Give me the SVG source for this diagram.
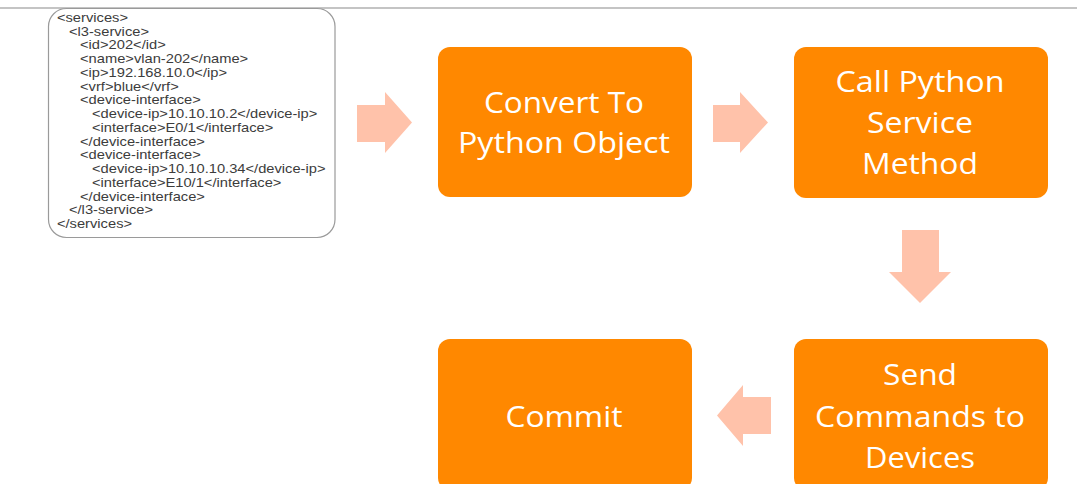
<svg xmlns="http://www.w3.org/2000/svg" width="1077" height="484" viewBox="0 0 1077 484">
<style>
.box{fill:#ff8800;}
.lbl{font-family:"Open Sans","Noto Sans",sans-serif;font-size:29px;fill:#ffffff;text-anchor:middle;}
.xml{font-family:"Liberation Sans",Arial,sans-serif;font-size:12px;fill:#3c3c3c;}
.arr{fill:#ffc2aa;}
</style>
<rect width="1077" height="484" fill="#ffffff"/>
<line x1="0" y1="8" x2="1077" y2="8" stroke="#c4c4c4" stroke-width="2"/>
<g id="xml">
<rect x="48.5" y="8.5" width="286.5" height="229" rx="18" fill="#ffffff" stroke="#9a9a9a" stroke-width="1.2"/>
<g transform="scale(1.225,1)">
<text class="xml" x="46.5" y="22">&lt;services&gt;</text>
<text class="xml" x="56.3" y="35.75">&lt;l3-service&gt;</text>
<text class="xml" x="65.3" y="49.5">&lt;id&gt;202&lt;/id&gt;</text>
<text class="xml" x="65.3" y="63.25">&lt;name&gt;vlan-202&lt;/name&gt;</text>
<text class="xml" x="65.3" y="77">&lt;ip&gt;192.168.10.0&lt;/ip&gt;</text>
<text class="xml" x="65.3" y="90.75">&lt;vrf&gt;blue&lt;/vrf&gt;</text>
<text class="xml" x="65.3" y="104.5">&lt;device-interface&gt;</text>
<text class="xml" x="75.1" y="118.25">&lt;device-ip&gt;10.10.10.2&lt;/device-ip&gt;</text>
<text class="xml" x="75.1" y="132">&lt;interface&gt;E0/1&lt;/interface&gt;</text>
<text class="xml" x="65.3" y="145.75">&lt;/device-interface&gt;</text>
<text class="xml" x="65.3" y="159.5">&lt;device-interface&gt;</text>
<text class="xml" x="75.1" y="173.25">&lt;device-ip&gt;10.10.10.34&lt;/device-ip&gt;</text>
<text class="xml" x="75.1" y="187">&lt;interface&gt;E10/1&lt;/interface&gt;</text>
<text class="xml" x="65.3" y="200.75">&lt;/device-interface&gt;</text>
<text class="xml" x="56.3" y="214.5">&lt;/l3-service&gt;</text>
<text class="xml" x="46.5" y="228.25">&lt;/services&gt;</text>
</g>
</g>
<g id="convert">
<rect class="box" x="438" y="47" width="254" height="150" rx="12"/>
<text class="lbl" x="564" y="113" textLength="160" lengthAdjust="spacingAndGlyphs">Convert To</text>
<text class="lbl" x="564" y="153" textLength="212" lengthAdjust="spacingAndGlyphs">Python Object</text>
</g>
<g id="call">
<rect class="box" x="794" y="47" width="254" height="151" rx="12"/>
<text class="lbl" x="920" y="92" textLength="169" lengthAdjust="spacingAndGlyphs">Call Python</text>
<text class="lbl" x="920" y="133" textLength="106" lengthAdjust="spacingAndGlyphs">Service</text>
<text class="lbl" x="920" y="174" textLength="116" lengthAdjust="spacingAndGlyphs">Method</text>
</g>
<g id="send">
<rect class="box" x="794" y="339" width="254" height="151" rx="12"/>
<text class="lbl" x="920" y="385" textLength="74" lengthAdjust="spacingAndGlyphs">Send</text>
<text class="lbl" x="920" y="427" textLength="210" lengthAdjust="spacingAndGlyphs">Commands to</text>
<text class="lbl" x="920" y="468" textLength="110" lengthAdjust="spacingAndGlyphs">Devices</text>
</g>
<g id="commit">
<rect class="box" x="438" y="339" width="254" height="151" rx="12"/>
<text class="lbl" x="564" y="427" textLength="117" lengthAdjust="spacingAndGlyphs">Commit</text>
</g>
<g id="connectors">
<polygon class="arr" points="357,105 385,105 385,92 412,122.5 385,153 385,142 357,142"/>
<polygon class="arr" points="713,105 740,105 740,92 768,122.5 740,153 740,142 713,142"/>
<polygon class="arr" points="902,230 939,230 939,272 951,272 920,303 889,272 902,272"/>
<polygon class="arr" points="771,397 743,397 743,385 717,415.5 743,446 743,434 771,434"/>
</g>
</svg>
